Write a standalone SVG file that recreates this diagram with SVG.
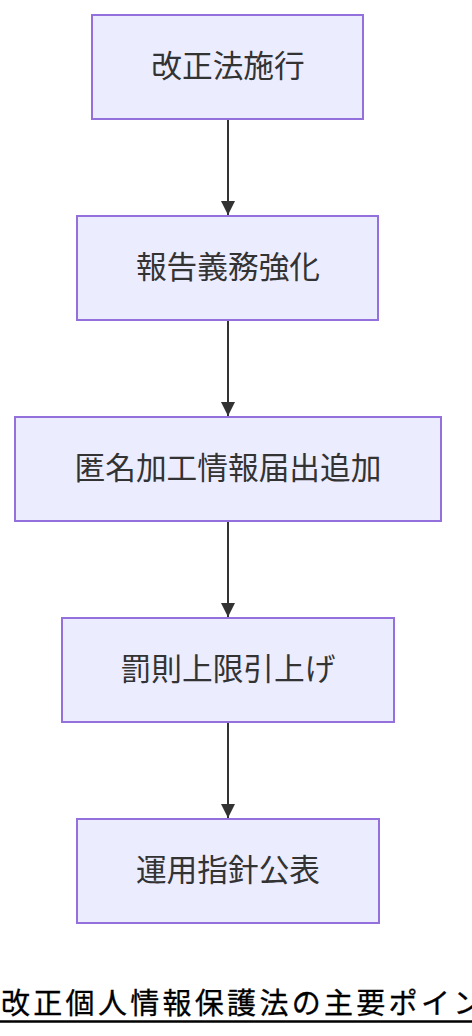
<svg xmlns="http://www.w3.org/2000/svg" width="472" height="1036" viewBox="0 0 472 1036">
<style>
.node rect{fill:#ECECFF;stroke:#9370DB;stroke-width:2}
.node text{font-family:"Noto Sans CJK JP","Noto Sans",sans-serif;font-size:30.7px;fill:#333;text-anchor:middle;dominant-baseline:central}
.edge{stroke:#333;stroke-width:2;fill:none}
.title{font-family:"Noto Sans CJK JP","Noto Sans",sans-serif;font-size:29px;fill:#000;letter-spacing:3.3px;stroke:#000;stroke-width:0.3}
</style>
<defs>
<marker id="arrow" viewBox="0 0 10 10" refX="10" refY="5" markerWidth="7" markerHeight="7" markerUnits="strokeWidth" orient="auto">
<path d="M0,0 L10,5 L0,10 z" fill="#333"/>
</marker>
</defs>
<rect width="472" height="1036" fill="#fff"/>
<g id="edges">
<line class="edge" x1="228" y1="120" x2="228" y2="215" marker-end="url(#arrow)"/>
<line class="edge" x1="228" y1="321" x2="228" y2="416" marker-end="url(#arrow)"/>
<line class="edge" x1="228" y1="522" x2="228" y2="617" marker-end="url(#arrow)"/>
<line class="edge" x1="228" y1="723" x2="228" y2="818" marker-end="url(#arrow)"/>
</g>
<g id="n1" class="node"><rect x="92" y="15" width="271" height="104"/><text x="228" y="63">改正法施行</text></g>
<g id="n2" class="node"><rect x="77" y="216" width="301" height="104"/><text x="228" y="264">報告義務強化</text></g>
<g id="n3" class="node"><rect x="15" y="417" width="426" height="104"/><text x="228" y="465">匿名加工情報届出追加</text></g>
<g id="n4" class="node"><rect x="62" y="618" width="332" height="104"/><text x="228" y="666">罰則上限引上げ</text></g>
<g id="n5" class="node"><rect x="77" y="819" width="302" height="104"/><text x="228" y="867">運用指針公表</text></g>
<g id="title">
<text class="title" x="1" y="1014">改正個人情報保護法の主要ポイント</text>
<line x1="0" y1="1021.5" x2="472" y2="1021.5" stroke="#000" stroke-width="2.5"/>
</g>
</svg>
